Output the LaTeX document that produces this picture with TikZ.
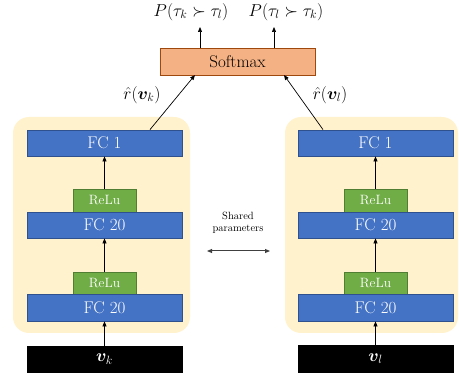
\documentclass[tikz,border=0pt]{standalone}
\usepackage{amsmath,bm}
\usetikzlibrary{arrows.meta}
\definecolor{fcblue}{HTML}{4472C4}
\definecolor{fcedge}{HTML}{2F528F}
\definecolor{relugreen}{HTML}{70AD47}
\definecolor{reluedge}{HTML}{507E32}
\definecolor{panel}{HTML}{FFF2CC}
\definecolor{smfill}{HTML}{F4B183}
\definecolor{smedge}{HTML}{C55A11}
\tikzset{
  panelbox/.style={fill=panel, draw=none, rounded corners=16pt},
  fcbox/.style={fill=fcblue, draw=fcedge, line width=0.8pt, text=white, font=\fontsize{17}{19}\selectfont, inner sep=0pt},
  relubox/.style={fill=relugreen, draw=reluedge, line width=0.8pt, text=white, font=\fontsize{13.5}{15}\selectfont, inner sep=0pt},
  inbox/.style={fill=black, draw=black, text=white, font=\fontsize{18}{20}\selectfont, inner sep=0pt},
  smbox/.style={fill=smfill, draw=smedge!80!black, line width=0.6pt, font=\fontsize{17}{19}\selectfont, inner sep=0pt},
  flow/.style={-{Triangle[length=5pt,width=4pt]}, line width=0.7pt},
  lbl/.style={font=\fontsize{16.5}{18}\selectfont, inner sep=0pt},
}
\begin{document}
\begin{tikzpicture}[x=1pt,y=-1pt]
\useasboundingbox (0,0) rectangle (459,377);
% two panels of the shared network
\fill[panelbox] (13,117) rectangle (190,333);
\fill[panelbox] (285,117) rectangle (458,333);
% left branch
\node[fcbox, minimum width=155pt, minimum height=26pt] (fc1k) at (104.5,143) {FC 1};
\node[relubox, minimum width=63pt, minimum height=23pt] (r1k) at (104.5,200.5) {ReLu};
\node[fcbox, minimum width=155pt, minimum height=26pt] (fc2k) at (104.5,225) {FC 20};
\node[relubox, minimum width=63pt, minimum height=22pt] (r2k) at (104.5,283) {ReLu};
\node[fcbox, minimum width=155pt, minimum height=27pt] (fc3k) at (104.5,307.5) {FC 20};
\node[inbox, minimum width=155pt, minimum height=26pt] (vk) at (104.5,359) {$\bm{v}_k$};
% right branch
\node[fcbox, minimum width=155pt, minimum height=26pt] (fc1l) at (375.5,143) {FC 1};
\node[relubox, minimum width=63pt, minimum height=23pt] (r1l) at (375.5,200.5) {ReLu};
\node[fcbox, minimum width=155pt, minimum height=26pt] (fc2l) at (375.5,225) {FC 20};
\node[relubox, minimum width=63pt, minimum height=22pt] (r2l) at (375.5,283) {ReLu};
\node[fcbox, minimum width=155pt, minimum height=27pt] (fc3l) at (375.5,307.5) {FC 20};
\node[inbox, minimum width=155pt, minimum height=27pt] (vl) at (375.5,358.5) {$\bm{v}_l$};
% softmax and outputs
\node[smbox, minimum width=155pt, minimum height=27pt] (sm) at (237.5,61.5) {Softmax};
\coordinate (o1) at (200,27);
\coordinate (o2) at (274,27);
\node[lbl] (p1) at (191,12) {$P(\tau_k \succ \tau_l)$};
\node[lbl] (p2) at (286,12) {$P(\tau_l \succ \tau_k)$};
\draw[flow] (sm.north -| o1) -- (o1);
\draw[flow] (sm.north -| o2) -- (o2);
% vertical flows
\foreach \s in {k,l}{
  \draw[flow] (v\s) -- (fc3\s);
  \draw[flow] (r2\s) -- (fc2\s);
  \draw[flow] (r1\s) -- (fc1\s);
}
% scores into softmax
\coordinate (sk) at (195,75);
\coordinate (sl) at (284,75);
\draw[flow] (fc1k.north -| 150,0) -- (sk);
\draw[flow] (fc1l.north -| 323,0) -- (sl);
\node[lbl] (rk) at (142,95) {$\hat{r}(\bm{v}_k)$};
\node[lbl] (rl) at (330,95) {$\hat{r}(\bm{v}_l)$};
% shared parameters
\node[font=\fontsize{10.5}{12}\selectfont, align=center] (sp) at (238,223) {Shared\\parameters};
\coordinate (sa) at (207,251);
\coordinate (sb) at (270,251);
\draw[{Triangle[length=5pt,width=4pt]}-{Triangle[length=5pt,width=4pt]}, line width=1pt, black!75] (sa) -- (sb);
\end{tikzpicture}
\end{document}
